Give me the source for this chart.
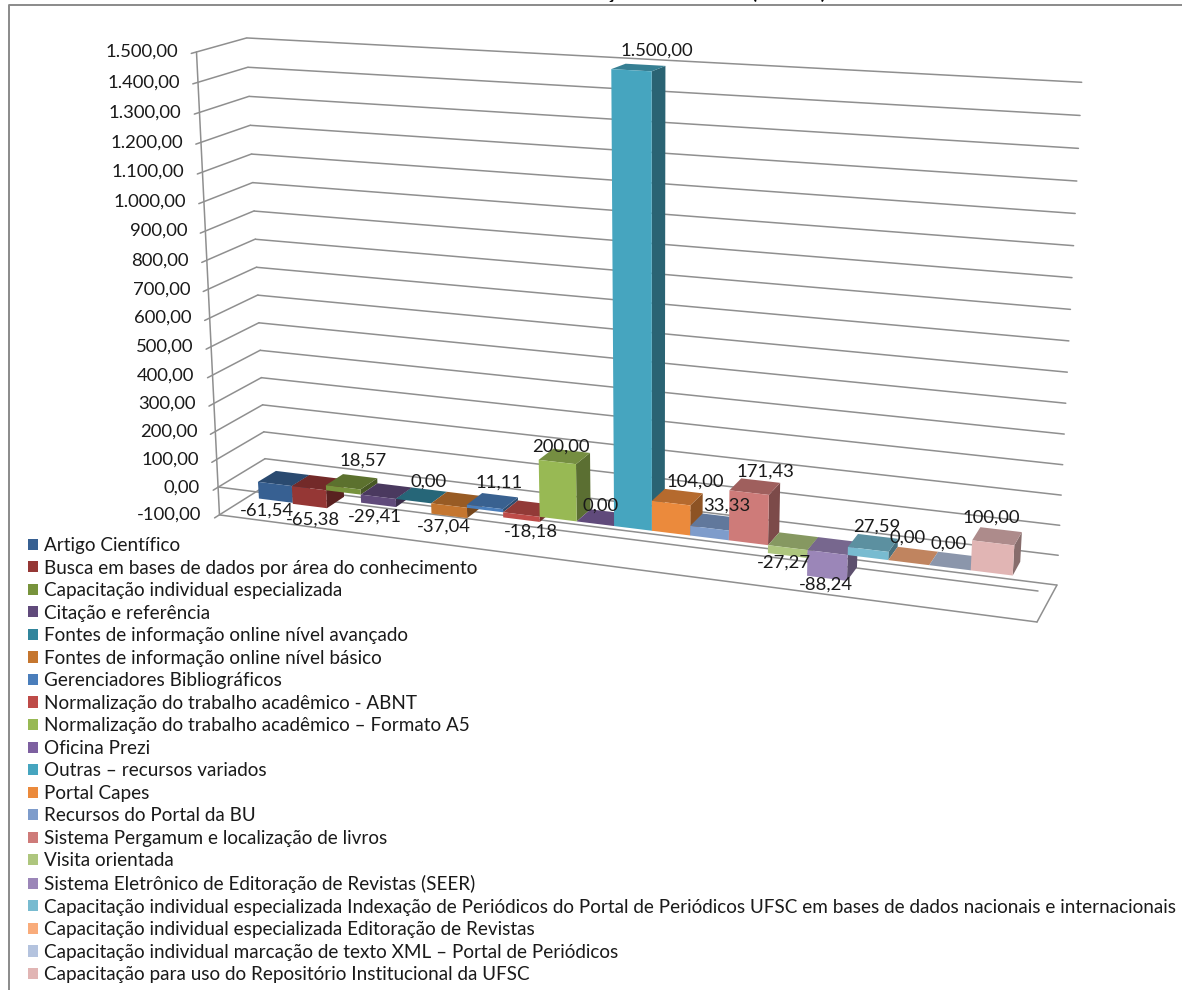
import numpy as np, pandas as pd, seaborn as sns, matplotlib
matplotlib.use("Agg")
import matplotlib.pyplot as plt
from matplotlib.transforms import Transform
from matplotlib.patches import Polygon

categories = ["Artigo Científico","Busca em bases de dados por área do conhecimento","Capacitação individual especializada","Citação e referência","Fontes de informação online nível avançado","Fontes de informação online nível básico","Gerenciadores Bibliográficos","Normalização do trabalho acadêmico - ABNT","Normalização do trabalho acadêmico – Formato A5","Oficina Prezi","Outras – recursos variados","Portal Capes","Recursos do Portal da BU","Sistema Pergamum e localização de livros","Visita orientada","Sistema Eletrônico de Editoração de Revistas (SEER)","Capacitação individual especializada Indexação de Periódicos do Portal de Periódicos UFSC em bases de dados nacionais e internacionais","Capacitação individual especializada Editoração de Revistas","Capacitação individual marcação de texto XML – Portal de Periódicos","Capacitação para uso do Repositório Institucional da UFSC"]
values = [-61.54,-65.38,18.57,-29.41,0.0,-37.04,11.11,-18.18,200.0,0.0,1500.0,104.0,33.33,171.43,-27.27,-88.24,27.59,0.0,0.0,100.0]
y_ticks = list(range(-100,1501,100))
colors = ['#376092','#953735','#77933C','#604A7B','#31859C','#C5762F','#4A7EBB','#BE4B48','#98B954','#7D60A0','#46A5BF','#EB8A3C','#7E9CCB','#CE7B79','#AEC67E','#9B86B8','#78BBD0','#F9AC7B','#B4C3DE','#E1B5B4']
title = "PERCENTUAL DE VARIAÇÃO DE VAGAS (2014-1)"
label_offsets = [(-9,10),(3,14),(20,-27),(-4,12),(15,-20),(-5,11),(14,-24),(9,12),(4,-15),(5,-18),(25,-20),(24,-21),(17,-23),(16,-21),(-4,7),(-1,6),(9,-23),(-1,-25),(-1,-24),(-2,-25)]

def br(v):
    return f"{v:,.2f}".replace(",","#").replace(".",",").replace("#",".")

# camera calibration: world (slot, value, depth) -> image pixel
CAL = [(-.5,0,0,258,482),(.5,0,0,292,486),(9.5,0,0,612,526),(10.5,0,0,652,530),(18.5,0,0,972,570),(19.5,0,0,1013,575),
       (9.5,1500,0,612,69),(10.5,1500,0,652,72),(18.5,100,0,972,540),(19.5,100,0,1014,546),(10.5,104,0,652,501),(11.5,104,0,690,506),
       (-.5,0,1,277,471),(.5,0,1,308,475),(9.5,1500,1,625,63),(10.5,1500,1,665,66),(10.5,104,1,668,489),(11.5,104,1,702,493),(18.5,100,1,979,527),(19.5,100,1,1022,533)]
def fit_cam(pts):
    A=[]
    for x,v,z,u,w in pts:
        X=[x,v/100,z,1]
        A.append(X+[0,0,0,0]+[-u*c for c in X])
        A.append([0,0,0,0]+X+[-w*c for c in X])
    return np.linalg.svd(np.array(A,float))[2][-1].reshape(3,4)
def fit_h(pts):
    A=[]
    for t,v,u,w in pts:
        X=[t,v/100,1]
        A.append(X+[0,0,0]+[-u*c for c in X])
        A.append([0,0,0]+X+[-w*c for c in X])
    return np.linalg.svd(np.array(A,float))[2][-1].reshape(3,3)
P = fit_cam(CAL)
def cam(x,v,z):
    q=P@np.array([x,v/100,z,1.0]); return q[0]/q[2],q[1]/q[2]

class Proj(Transform):
    input_dims=output_dims=2; has_inverse=False; is_separable=False
    def __init__(self,H):
        super().__init__(); self.H=H
    def transform_non_affine(self,a):
        a=np.asarray(a,float).reshape(-1,2)
        q=np.c_[a[:,0],a[:,1]/100,np.ones(len(a))]@self.H.T
        return q[:,:2]/q[:,2:]

front_bar = Proj(P[:,[0,1,3]])
back_wall = Proj(fit_h([(0,1500,247,38),(0,0,265,458),(0,-100,266,486),(1,1500,1082,82),(1,1000,1073,246),(1,300,1063,465),(1,0,1058,555),(1,-100,1057,585)]))
left_wall = Proj(fit_h([(0,1500,196,52),(0,0,218,487),(0,-100,220,515),(1,1500,247,38),(1,0,265,458),(1,-100,266,486)]))
front_wall = Proj(fit_h([(0,0,218,487),(0,-100,220,515),(1,0,1038,591),(1,-100,1037,622)]))

sns.set_theme(style="white")
plt.rcParams['font.family']=['Lato','DejaVu Sans']
fig=plt.figure(figsize=(11.82,9.9),dpi=100)
ax=fig.add_axes([0,0,1,1])
df=pd.DataFrame({"categoria":categories,"variacao":values})
sns.barplot(df,x="categoria",y="variacao",hue="categoria",hue_order=categories,order=categories,palette=colors,dodge=False,width=1.0,gap=0,saturation=1,ax=ax,legend=True,linewidth=0)
handles,labels=ax.get_legend_handles_labels()
ax.get_legend().remove()
ax.set_xlim(0,1182); ax.set_ylim(990,0); ax.set_axis_off()
T=ax.transData

GRID=dict(color='#8f8f8f',lw=1.1,solid_capstyle='round',zorder=1)
for v in y_ticks:
    ax.plot([0,1],[v,v],transform=back_wall+T,**GRID)
    ax.plot([-.1,1],[v,v],transform=left_wall+T,**GRID)
    ax.annotate(br(v),xy=(0,v),xycoords=left_wall+T,xytext=(-18,0),textcoords='offset pixels',ha='right',va='center',fontsize=13.3,color='#1a1a1a')
ax.plot([0,0],[-100,1500],transform=left_wall+T,**GRID)
ax.plot([0,1],[0,0],transform=front_wall+T,**GRID)
ax.plot([0,1],[-100,-100],transform=front_wall+T,**GRID)
ax.plot([1037,1057],[622,585],**GRID)

def shade(c,f):
    return tuple(f*x for x in matplotlib.colors.to_rgb(c))
for cont in ax.containers:
    for r in cont:
        if np.isnan(r.get_height()): continue
        i=int(round(r.get_x()+r.get_width()/2)); v=values[i]
        r.set_transform(front_bar+T); r.set_zorder(3+i+.2); r.set_linewidth(0)
        top=max(v,0)
        a,b=i-.5,i+.5
        ax.add_patch(Polygon([cam(a,top,0),cam(b,top,0),cam(b,top,1),cam(a,top,1)],fc=shade(colors[i],.77),ec='none',zorder=3+i+.1))
        ax.add_patch(Polygon([cam(b,top,0),cam(b,top,1),cam(b,min(v,0),1),cam(b,min(v,0),0)],fc=shade(colors[i],.6),ec='none',zorder=3+i))

for i,(v,o) in enumerate(zip(values,label_offsets)):
    px=cam(i,v,0)
    ax.text(px[0]+o[0],px[1]+o[1],br(v),ha='center',va='center',fontsize=13.3,color='#1a1a1a',zorder=40)

leg=ax.legend(handles,labels,loc='upper left',bbox_to_anchor=(28,537),bbox_transform=T,frameon=False,fontsize=13.6,handlelength=.53,handleheight=.53,handletextpad=.32,labelspacing=.293,borderpad=0,borderaxespad=0)
for t in leg.get_texts(): t.set_color('#1a1a1a')

ax.plot([9,9,1182],[990,4.5,4.5],color='#8a8a8a',lw=1.4,zorder=1)
ax.text(826,-1,title,ha='right',va='baseline',fontsize=14,fontweight='bold',color='black',clip_on=False)

fig.savefig("out.png",dpi=100)
